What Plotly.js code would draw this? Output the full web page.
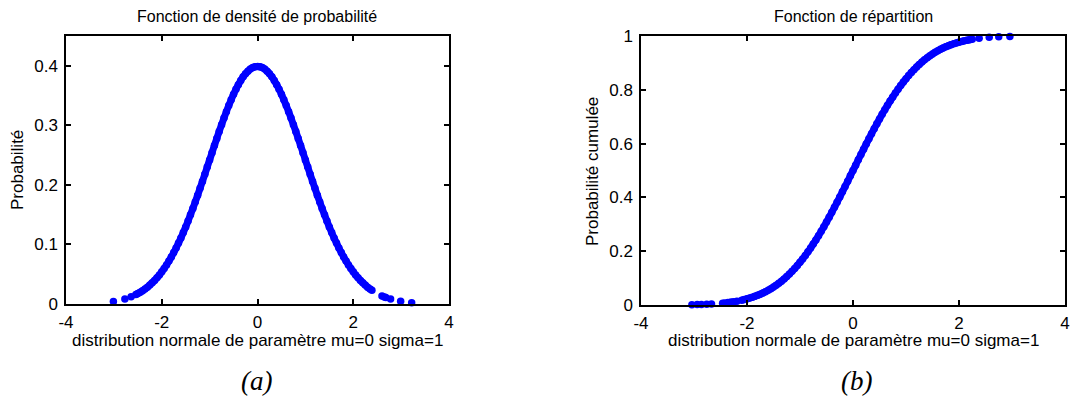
<!DOCTYPE html>
<html><head><meta charset="utf-8">
<script src="https://cdn.plot.ly/plotly-3.0.1.min.js"></script>
<style>html,body{margin:0;padding:0;background:#fff}#chart{width:1070px;height:407px}</style>
</head><body><div id="chart"></div>
<script>
// Panel (a): sample points and density values
const pdfX = [-3.01,-2.77,-2.64,-2.54,-2.5,-2.45,-2.4,-2.35,-2.3,-2.25,-2.2,-2.15,-2.1,-2.05,-2.0,-1.95,-1.9,-1.85,-1.8,-1.75,-1.7,-1.65,-1.6,-1.55,-1.5,-1.45,-1.4,-1.35,-1.3,-1.25,-1.2,-1.15,-1.1,-1.05,-1.0,-0.95,-0.9,-0.85,-0.8,-0.75,-0.7,-0.65,-0.6,-0.55,-0.5,-0.45,-0.4,-0.35,-0.3,-0.25,-0.2,-0.15,-0.1,-0.05,0,0.05,0.1,0.15,0.2,0.25,0.3,0.35,0.4,0.45,0.5,0.55,0.6,0.65,0.7,0.75,0.8,0.85,0.9,0.95,1.0,1.05,1.1,1.15,1.2,1.25,1.3,1.35,1.4,1.45,1.5,1.55,1.6,1.65,1.7,1.75,1.8,1.85,1.9,1.95,2.0,2.05,2.1,2.15,2.2,2.25,2.3,2.35,2.39,2.6,2.65,2.68,2.78,2.99,3.22];
const pdfY = [0.0043,0.0086,0.0122,0.0158,0.0175,0.0198,0.0224,0.0252,0.0283,0.0317,0.0355,0.0396,0.0440,0.0488,0.0540,0.0596,0.0656,0.0721,0.0790,0.0863,0.0940,0.1023,0.1109,0.1200,0.1295,0.1394,0.1497,0.1604,0.1714,0.1826,0.1942,0.2059,0.2179,0.2299,0.2420,0.2541,0.2661,0.2780,0.2897,0.3011,0.3123,0.3230,0.3332,0.3429,0.3521,0.3605,0.3683,0.3752,0.3814,0.3867,0.3910,0.3945,0.3970,0.3984,0.3989,0.3984,0.3970,0.3945,0.3910,0.3867,0.3814,0.3752,0.3683,0.3605,0.3521,0.3429,0.3332,0.3230,0.3123,0.3011,0.2897,0.2780,0.2661,0.2541,0.2420,0.2299,0.2179,0.2059,0.1942,0.1826,0.1714,0.1604,0.1497,0.1394,0.1295,0.1200,0.1109,0.1023,0.0940,0.0863,0.0790,0.0721,0.0656,0.0596,0.0540,0.0488,0.0440,0.0396,0.0355,0.0317,0.0283,0.0252,0.0229,0.0136,0.0119,0.0110,0.0083,0.0046,0.0022];

// Panel (b): sample points and cumulative values
const cdfX = [-3.04,-2.94,-2.86,-2.76,-2.67,-2.46,-2.42,-2.36,-2.3,-2.25,-2.19,-2.1,-2.05,-2.0,-1.95,-1.9,-1.85,-1.8,-1.75,-1.7,-1.65,-1.6,-1.55,-1.5,-1.45,-1.4,-1.35,-1.3,-1.25,-1.2,-1.15,-1.1,-1.05,-1.0,-0.95,-0.9,-0.85,-0.8,-0.75,-0.7,-0.65,-0.6,-0.55,-0.5,-0.45,-0.4,-0.35,-0.3,-0.25,-0.2,-0.15,-0.1,-0.05,0,0.05,0.1,0.15,0.2,0.25,0.3,0.35,0.4,0.45,0.5,0.55,0.6,0.65,0.7,0.75,0.8,0.85,0.9,0.95,1.0,1.05,1.1,1.15,1.2,1.25,1.3,1.35,1.4,1.45,1.5,1.55,1.6,1.65,1.7,1.75,1.8,1.85,1.9,1.95,2.0,2.05,2.1,2.15,2.2,2.25,2.38,2.57,2.75,2.96];
const cdfY = [0.0012,0.0016,0.0021,0.0029,0.0038,0.0069,0.0078,0.0091,0.0107,0.0122,0.0143,0.0179,0.0202,0.0228,0.0256,0.0287,0.0322,0.0359,0.0401,0.0446,0.0495,0.0548,0.0606,0.0668,0.0735,0.0808,0.0885,0.0968,0.1056,0.1151,0.1251,0.1357,0.1469,0.1587,0.1711,0.1841,0.1977,0.2119,0.2266,0.2420,0.2578,0.2743,0.2912,0.3085,0.3264,0.3446,0.3632,0.3821,0.4013,0.4207,0.4404,0.4602,0.4801,0.5000,0.5199,0.5398,0.5596,0.5793,0.5987,0.6179,0.6368,0.6554,0.6736,0.6915,0.7088,0.7257,0.7422,0.7580,0.7734,0.7881,0.8023,0.8159,0.8289,0.8413,0.8531,0.8643,0.8749,0.8849,0.8944,0.9032,0.9115,0.9192,0.9265,0.9332,0.9394,0.9452,0.9505,0.9554,0.9599,0.9641,0.9678,0.9713,0.9744,0.9772,0.9798,0.9821,0.9842,0.9861,0.9878,0.9913,0.9949,0.9970,0.9985];

const xTicks = [-4,-2,0,2,4];
const xTickLabels = ['-4','-2','0','2','4'];
const pdfTicks = [0,0.1,0.2,0.3,0.4];
const pdfTickLabels = ['0','0.1','0.2','0.3','0.4'];
const cdfTicks = [0,0.2,0.4,0.6,0.8,1];
const cdfTickLabels = ['0','0.2','0.4','0.6','0.8','1'];

const F = 'Liberation Sans, Arial, sans-serif';
const W = 1070, H = 407;
const px = v => v / W, py = v => 1 - v / H;
const BLUE = '#0000ff';

function ax(domain, range, ticks, labels, anchor, isY) {
  return {domain: domain, range: range, tickmode: 'array', tickvals: ticks, ticktext: labels,
    ticks: 'inside', ticklen: 5, tickwidth: 1.5,
    tickcolor: '#000000', showline: true, linecolor: '#000000', linewidth: 1.5, mirror: 'ticks',
    showgrid: false, zeroline: false, anchor: anchor, ticklabelstandoff: isY ? 3 : 2,
    tickfont: {family: F, size: 17, color: '#000000'}};
}

// Continuous stretch of each panel (dense samples merge into a band)
function band(xs, ys, lo, hi) {
  const bx = [], by = [];
  xs.forEach((v, i) => { if (v >= lo && v <= hi) { bx.push(v); by.push(ys[i]); } });
  return {x: bx, y: by};
}
const pdfBand = band(pdfX, pdfY, -2.54, 2.39);
const cdfBand = band(cdfX, cdfY, -2.1, 2.25);

const mk = {color: BLUE, size: 7.5};
const data = [
  {x: pdfBand.x, y: pdfBand.y, type: 'scatter', mode: 'lines', line: {color: BLUE, width: 7, shape: 'spline'}, xaxis: 'x', yaxis: 'y', cliponaxis: false},
  {x: pdfX, y: pdfY, type: 'scatter', mode: 'markers', marker: mk, xaxis: 'x', yaxis: 'y', cliponaxis: false},
  {x: cdfBand.x, y: cdfBand.y, type: 'scatter', mode: 'lines', line: {color: BLUE, width: 7, shape: 'spline'}, xaxis: 'x2', yaxis: 'y2', cliponaxis: false},
  {x: cdfX, y: cdfY, type: 'scatter', mode: 'markers', marker: mk, xaxis: 'x2', yaxis: 'y2', cliponaxis: false}
];

function note(text, x, y, size, extra) {
  return Object.assign({text: text, x: px(x), y: py(y), xref: 'paper', yref: 'paper', xanchor: 'center', yanchor: 'middle',
    showarrow: false, font: {family: F, size: size, color: '#000000'}}, extra || {});
}

const xlab = 'distribution normale de paramètre mu=0 sigma=1';
const serif = {family: 'Liberation Serif, Times New Roman, serif', size: 27, color: '#000000'};
const layout = {
  width: W, height: H, margin: {l: 0, r: 0, t: 0, b: 0}, showlegend: false,
  paper_bgcolor: '#ffffff', plot_bgcolor: '#ffffff',
  xaxis: ax([px(66), px(449)], [-4, 4], xTicks, xTickLabels, 'y'),
  yaxis: ax([py(304), py(36)], [0, 0.45], pdfTicks, pdfTickLabels, 'x', true),
  xaxis2: ax([px(641), px(1065)], [-4, 4], xTicks, xTickLabels, 'y2'),
  yaxis2: ax([py(305), py(36)], [0, 1], cdfTicks, cdfTickLabels, 'x2', true),
  annotations: [
    note('Fonction de densité de probabilité', 257, 17, 16),
    note('Fonction de répartition', 853, 17, 16),
    note(xlab, 257, 340, 17),
    note(xlab, 853, 340, 17),
    note('Probabilité', 17, 170, 17, {textangle: -90}),
    note('Probabilité cumulée', 593, 172, 17, {textangle: -90}),
    note('<i>(a)</i>', 256, 381, 27, {font: serif}),
    note('<i>(b)</i>', 856, 381, 27, {font: serif})
  ]
};
Plotly.newPlot('chart', data, layout, {displayModeBar: false});
</script></body></html>
